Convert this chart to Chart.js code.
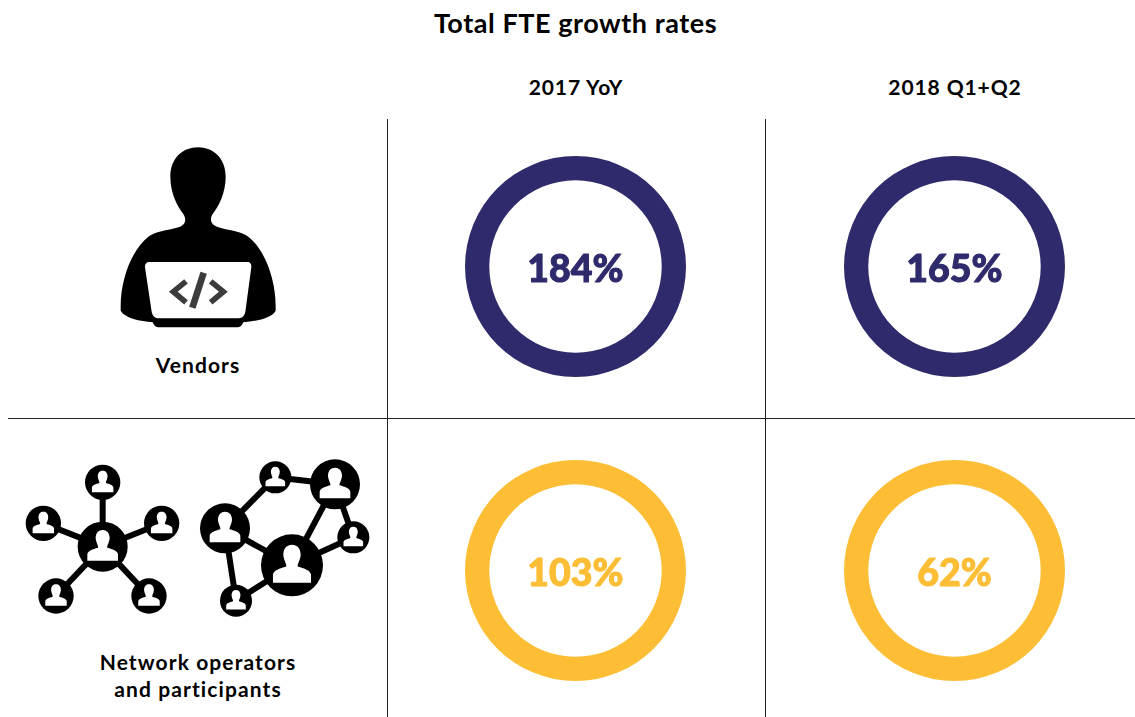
<!DOCTYPE html>
<html><head><meta charset="utf-8"><title>Total FTE growth rates</title>
<script src="https://cdn.jsdelivr.net/npm/chart.js@4"></script>
<style>
html,body{margin:0;padding:0;background:#fff;}
#stage{position:relative;width:1135px;height:717px;overflow:hidden;font-family:Lato,sans-serif;color:#000;}
.t{position:absolute;text-align:center;white-space:nowrap;font-weight:700;}
canvas{position:absolute;}
svg{position:absolute;left:0;top:0;}
</style></head><body>
<div id="stage">
<svg width="1135" height="717" viewBox="0 0 1135 717">
<defs>
<g id="p"><path fill="#fff" d="M-46 42L-46 22C-44 12-30 8-14 3C-12-2-20-12-21-25C-21-42-12-50 0-50C12-50 21-42 21-25C20-12 12-2 14 3C30 8 44 12 46 22L46 42Z"/></g>
</defs>
<g stroke="#222" stroke-width="1" shape-rendering="crispEdges">
<line x1="387.5" y1="119" x2="387.5" y2="717"/>
<line x1="765.5" y1="119" x2="765.5" y2="717"/>
<line x1="8" y1="418.5" x2="1135" y2="418.5"/>
</g>
<g transform="translate(0,120) scale(0.33333)">
<path fill="#000" d="M594 82C640 82 677 115 677 170C677 220 655 260 638 282C628 298 632 315 655 322C690 332 725 335 745 350C790 385 827 470 827 560L827 572C815 595 770 603 730 607C725 618 720 622 710 622L478 622C468 622 463 618 458 607C420 603 375 595 362 572L362 560C362 470 400 385 445 350C465 335 500 332 535 322C558 315 560 298 550 282C533 260 511 220 511 170C511 115 548 82 594 82Z"/>
<path fill="#fff" d="M448 426L742 426C750 426 755 432 754 442L736 575C734 588 725 595 712 595L478 595C465 595 457 588 455 575L435 442C434 432 440 426 448 426Z"/>
<g fill="none" stroke="#3c3c3c" stroke-width="17">
<polyline points="558,484 520,515 558,547"/>
<polyline points="632,484 670,515 632,547"/>
</g>
<line x1="611" y1="458" x2="577" y2="563" stroke="#3c3c3c" stroke-width="20"/>
</g>
<g transform="translate(0,440) scale(0.33333)">
<g stroke="#000" stroke-width="18">
<line x1="308" y1="320" x2="308" y2="127"/><line x1="308" y1="320" x2="130" y2="250"/><line x1="308" y1="320" x2="485" y2="250"/><line x1="308" y1="320" x2="168" y2="468"/><line x1="308" y1="320" x2="447" y2="468"/>
<line x1="675" y1="265" x2="826" y2="112"/><line x1="826" y1="112" x2="1005" y2="133"/><line x1="1005" y1="133" x2="876" y2="376"/><line x1="1005" y1="133" x2="1060" y2="292"/><line x1="1060" y1="292" x2="876" y2="376"/><line x1="876" y1="376" x2="675" y2="265"/><line x1="675" y1="265" x2="708" y2="482"/><line x1="708" y1="482" x2="876" y2="376"/>
</g>
<g fill="#000">
<circle cx="308" cy="320" r="75"/><circle cx="308" cy="127" r="53"/><circle cx="130" cy="250" r="53"/><circle cx="485" cy="250" r="53"/><circle cx="168" cy="468" r="53"/><circle cx="447" cy="468" r="53"/>
<circle cx="675" cy="265" r="75"/><circle cx="826" cy="112" r="48"/><circle cx="1005" cy="133" r="75"/><circle cx="1060" cy="292" r="48"/><circle cx="876" cy="376" r="93"/><circle cx="708" cy="482" r="48"/>
</g>
<use href="#p" transform="translate(308,320)"/>
<use href="#p" transform="translate(308,127) scale(.7)"/><use href="#p" transform="translate(130,250) scale(.7)"/><use href="#p" transform="translate(485,250) scale(.7)"/><use href="#p" transform="translate(168,468) scale(.7)"/><use href="#p" transform="translate(447,468) scale(.7)"/>
<use href="#p" transform="translate(675,265)"/><use href="#p" transform="translate(826,112) scale(.64)"/><use href="#p" transform="translate(1005,133)"/><use href="#p" transform="translate(1060,292) scale(.64)"/><use href="#p" transform="translate(876,376) scale(1.24)"/><use href="#p" transform="translate(708,482) scale(.64)"/>
</g>
</svg>
<div class="t" id="title" style="left:0;width:1151px;top:6px;font-size:27px;line-height:34px;letter-spacing:.55px;"></div>
<div class="t" id="col0" style="left:476px;width:200px;top:74px;font-size:21px;line-height:26px;letter-spacing:.9px;"></div>
<div class="t" id="col1" style="left:855px;width:200px;top:74px;font-size:21px;line-height:26px;letter-spacing:.9px;"></div>
<div class="t" id="row0" style="left:98px;width:200px;top:351px;font-size:21px;line-height:27px;letter-spacing:1.1px;"></div>
<div class="t" id="row1" style="left:98px;width:200px;top:648px;font-size:21px;line-height:27px;letter-spacing:1.1px;"></div>
</div>
<script>
const chartTitle = "Total FTE growth rates";
const periods = ["2017 YoY", "2018 Q1+Q2"];
const groups = ["Vendors", "Network operators\nand participants"];
const vendorRates = [184, 165];
const networkRates = [103, 62];
const groupColors = ["#2e2a6b", "#fdbe35"];

document.getElementById('title').textContent = chartTitle;
periods.forEach((p,i)=>document.getElementById('col'+i).textContent = p);
groups.forEach((g,i)=>document.getElementById('row'+i).innerHTML = g.replace('\n','<br>'));

const centerLabel = {
  id:'centerLabel',
  afterDraw(chart){
    const o = chart.options.plugins.centerLabel, a = chart.getDatasetMeta(0).data[0];
    const c = chart.ctx; c.save();
    c.font = '900 37.5px "Lato Black", Lato'; c.fillStyle = o.color;
    c.strokeStyle = o.color; c.lineWidth = 1; c.lineJoin = 'round';
    c.textAlign='center'; c.textBaseline='middle';
    c.strokeText(o.text, a.x, a.y+3);
    c.fillText(o.text, a.x, a.y+3); c.restore();
  }
};
function ring(value, color, left, top){
  const cv = document.createElement('canvas');
  cv.width = 223; cv.height = 223;
  cv.style.left = left+'px'; cv.style.top = top+'px';
  document.getElementById('stage').appendChild(cv);
  new Chart(cv,{
    type:'doughnut',
    data:{labels:[value+'%'],datasets:[{data:[value],backgroundColor:color,borderWidth:0}]},
    options:{responsive:false,animation:false,radius:110.5,cutout:87,
      layout:{padding:0},
      plugins:{legend:{display:false},tooltip:{enabled:false},centerLabel:{text:value+'%',color}}},
    plugins:[centerLabel]
  });
}
const lefts = [464, 843], tops = [155, 459];
[vendorRates, networkRates].forEach((rates,r)=>rates.forEach((v,c)=>ring(v, groupColors[r], lefts[c], tops[r])));
</script>
</body></html>
